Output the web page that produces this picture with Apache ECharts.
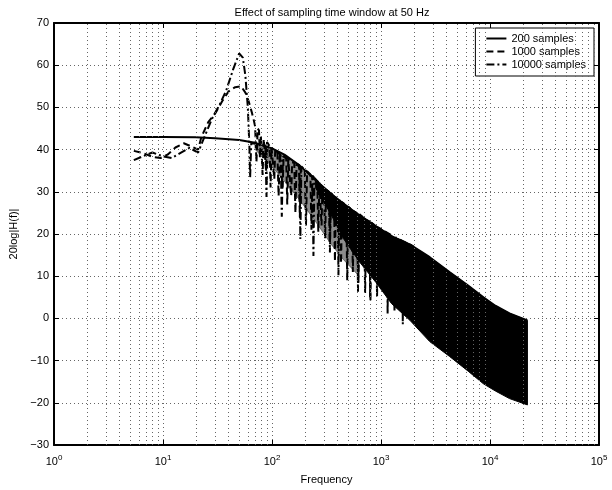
<!DOCTYPE html>
<html>
<head>
<meta charset="utf-8">
<script src="https://cdn.jsdelivr.net/npm/echarts@6/dist/echarts.min.js"></script>
<style>
  html, body { margin: 0; padding: 0; background: #fff; }
  #chart { width: 612px; height: 490px; }
</style>
</head>
<body>
<div id="chart"></div>
<script>
// 200 samples (smooth curve)
const freq200 = [5.4, 10, 20, 30, 50, 70, 100, 130, 180, 250, 350, 450, 630, 900, 1250, 1850, 2800, 4250, 6300, 8700, 11200, 15100, 22050]
const val200 = [43.0, 43.0, 42.9, 42.7, 42.3, 41.6, 40.3, 38.8, 36.2, 32.8, 29.5, 27.2, 24.5, 21.8, 19.5, 17.5, 14.5, 11.0, 7.8, 5.0, 3.0, 1.2, -0.5]

// 1000 samples (dashed)
const freq1000 = [5.4, 6.5, 8, 9.5, 11, 13, 15.5, 18, 21, 22.5, 26, 30, 35, 40, 46, 52, 57, 61, 65, 68,
  70, 72, 74, 76, 77.5, 79, 82, 84, 87, 88.5, 90, 95, 97, 99, 103, 105, 107, 112, 115, 118,
  122, 125, 128, 135, 138, 141, 147, 150, 153, 160, 164, 168, 177, 180, 184, 200, 205, 210,
  225, 230, 235, 260, 266, 272, 280, 285, 290, 300, 307, 314, 333, 340, 347, 370, 378, 386,
  420, 430, 440, 480, 490, 500, 540, 552, 565, 605, 620, 635, 700, 715, 730, 785, 800, 815,
  900, 920, 940, 1300, 1330, 1360, 2000]
const val1000 = [39.7, 39.2, 38.3, 38.0, 38.8, 40.5, 41.5, 40.8, 40.0, 43.0, 46.5, 48.5, 51.5, 53.8, 54.8, 55.0, 53.5, 51.5, 49.0, 47.0,
  45.5, 37.0, 45.0, 44.5, 38.0, 43.5, 34.0, 42.5, 42.2, 35.0, 41.8, 40.8, 31.0, 40.5, 40.2, 33.0, 40.0, 39.5, 29.0, 39.2,
  38.9, 31.0, 38.7, 37.8, 27.0, 37.6, 37.3, 29.0, 37.0, 36.8, 25.0, 36.5, 36.0, 24.0, 35.8, 35.2, 22.0, 34.9,
  34.1, 21.0, 33.8, 32.6, 20.5, 32.2, 31.9, 22.0, 31.6, 31.0, 19.0, 30.5, 30.0, 18.0, 29.7, 29.0, 13.5, 28.7,
  27.9, 13.0, 27.5, 26.8, 9.0, 26.5, 25.8, 11.0, 25.4, 24.9, 8.0, 24.7, 23.7, 6.0, 23.4, 22.9, 4.0, 22.7,
  21.8, 5.2, 21.6, 19.4, 1.5, 19.2, 17.0]

// 10000 samples (dash-dot)
const freq10000 = [5.4, 6.5, 8, 10, 12, 14.5, 17.5, 21, 24, 28, 33, 38, 44, 50, 54, 57, 60, 62, 63, 64.5,
  75, 87, 89, 91, 105, 120, 123, 126, 150, 178, 182, 186, 215, 235, 240, 245, 290, 333, 340, 347,
  380, 400, 407, 415, 500, 605, 615, 625, 700, 785, 795, 805, 950, 1135, 1150, 1165, 1350, 1565, 1585, 1605, 2000]
const val10000 = [37.5, 38.4, 39.3, 38.4, 38.0, 39.2, 40.4, 39.3, 43.0, 47.2, 50.6, 54.0, 59.0, 62.8, 61.8, 57.5, 50.0, 41.0, 33.4, 41.5,
  41.4, 41.0, 28.8, 40.8, 40.0, 38.7, 24.1, 38.4, 37.4, 36.3, 18.8, 36.0, 34.5, 33.6, 14.8, 33.3, 31.2, 29.9, 15.6, 29.6,
  28.6, 28.2, 10.2, 28.0, 26.3, 24.8, 6.3, 24.6, 23.7, 22.9, 4.8, 22.7, 21.4, 20.1, 1.0, 19.9, 19.0, 18.3, -1.4, 18.2, 17.0]

// dense oscillation band of the long records (upper / lower envelope)
const bandFreq = [250, 350, 450, 630, 900, 1250, 1850, 2800, 4250, 6300, 8700, 11200, 15100, 22050]
const bandUpper = [32.8, 29.5, 27.2, 24.5, 21.8, 19.5, 17.5, 14.5, 11.0, 7.8, 5.0, 3.0, 1.2, -0.5]
const bandLower = [31.0, 24.5, 19.0, 13.5, 8.5, 3.5, -0.5, -5.5, -9.0, -12.5, -15.5, -17.2, -19.0, -20.5]

// looser cloud of dashes where the oscillations start (upper / lower envelope)
const cloudFreq = [70, 100, 130, 180, 250, 350, 450, 630]
const cloudUpper = [41.6, 40.3, 38.8, 36.2, 32.8, 29.5, 27.2, 24.5]
const cloudLower = [40.0, 36.0, 32.5, 28.0, 23.0, 17.5, 14.0, 10.0]

// minor grid positions on the log axis
const minorGrid = [2, 3, 4, 5, 6, 7, 8, 9, 20, 30, 40, 50, 60, 70, 80, 90,
  200, 300, 400, 500, 600, 700, 800, 900, 2000, 3000, 4000, 5000, 6000, 7000, 8000, 9000,
  20000, 30000, 40000, 50000, 60000, 70000, 80000, 90000]

const FONT = 'Liberation Sans, Arial, Helvetica, sans-serif'

const pair = (xs, ys) => xs.map((x, i) => [x, ys[i]])

// closed outline between an upper and a lower envelope
const envelope = (xs, hi, lo, fill) => (params, api) => {
  if (params.dataIndex !== 0) return null
  const pts = []
  xs.forEach((f, i) => pts.push(api.coord([f, hi[i]])))
  for (let i = xs.length - 1; i >= 0; i--) pts.push(api.coord([xs[i], lo[i]]))
  return {type: 'polygon', shape: {points: pts}, style: {fill: fill, stroke: fill, lineWidth: 1}}
}

const chart = echarts.init(document.getElementById('chart'), null, {renderer: 'canvas'})

const gridLine = {show: true, lineStyle: {color: '#666', width: 1, type: [1, 3]}}

chart.setOption({
  animation: false,
  backgroundColor: '#fff',
  title: {
    text: 'Effect of sampling time window at 50 Hz',
    left: 327,
    textAlign: 'center',
    top: 2,
    textStyle: {fontFamily: FONT, fontSize: 11, fontWeight: 'normal', color: '#000'}
  },
  legend: {
    data: ['200 samples', '1000 samples', '10000 samples'],
    orient: 'vertical',
    right: 18,
    top: 28,
    padding: [5, 8, 6, 10],
    itemGap: 2,
    itemWidth: 20,
    itemHeight: 11,
    backgroundColor: '#fff',
    borderColor: '#000',
    borderWidth: 1,
    itemStyle: {color: 'rgba(0,0,0,0)', borderColor: 'rgba(0,0,0,0)', borderWidth: 0},
    textStyle: {fontFamily: FONT, fontSize: 11, color: '#000'}
  },
  grid: {left: 54, right: 13, top: 23, bottom: 37},
  xAxis: [
    {
      type: 'log',
      logBase: 10,
      min: 1,
      max: 100000,
      name: 'Frequency',
      nameLocation: 'middle',
      nameGap: 29,
      nameTextStyle: {fontFamily: FONT, fontSize: 11, color: '#000'},
      axisLine: {show: true, onZero: false, lineStyle: {color: '#000', width: 2}},
      axisTick: {show: true, inside: true, length: 5, lineStyle: {color: '#000', width: 1}},
      splitLine: gridLine,
      axisLabel: {
        margin: 9,
        formatter: v => '{b|10}{s|' + Math.round(Math.log10(v)) + '}',
        rich: {
          b: {fontFamily: FONT, fontSize: 11, color: '#000'},
          s: {fontFamily: FONT, fontSize: 8, color: '#000', padding: [0, 0, 8, 0]}
        }
      }
    },
    {
      type: 'log',
      logBase: 10,
      min: 1,
      max: 100000,
      position: 'top',
      axisLine: {show: true, onZero: false, lineStyle: {color: '#000', width: 2}},
      axisTick: {show: true, inside: true, length: 5, lineStyle: {color: '#000', width: 1}},
      axisLabel: {show: false},
      splitLine: {show: false}
    }
  ],
  yAxis: [
    {
      type: 'value',
      min: -30,
      max: 70,
      interval: 10,
      name: '20log|H(f)|',
      nameLocation: 'middle',
      nameGap: 28,
      nameTextStyle: {fontFamily: FONT, fontSize: 11, color: '#000'},
      axisLine: {show: true, onZero: false, lineStyle: {color: '#000', width: 2}},
      axisTick: {show: true, inside: true, length: 5, lineStyle: {color: '#000', width: 1}},
      splitLine: gridLine,
      axisLabel: {
        margin: 5,
        fontFamily: FONT,
        fontSize: 11,
        color: '#000',
        formatter: v => (v < 0 ? '\u2212' + Math.abs(v) : '' + v)
      }
    },
    {
      type: 'value',
      min: -30,
      max: 70,
      interval: 10,
      position: 'right',
      axisLine: {show: true, onZero: false, lineStyle: {color: '#000', width: 2}},
      axisTick: {show: true, inside: true, length: 5, lineStyle: {color: '#000', width: 1}},
      axisLabel: {show: false},
      splitLine: {show: false}
    }
  ],
  series: [
    {
      // minor grid (decade subdivisions)
      name: 'minor',
      type: 'line',
      data: [],
      z: 1,
      silent: true,
      markLine: {
        silent: true,
        symbol: 'none',
        label: {show: false},
        lineStyle: {color: '#666', width: 1, type: [1, 3]},
        data: minorGrid.map(v => ({xAxis: v}))
      }
    },
    {
      name: 'cloud',
      type: 'custom',
      z: 3,
      silent: true,
      data: pair(cloudFreq, cloudUpper),
      encode: {x: 0, y: 1},
      renderItem: envelope(cloudFreq, cloudUpper, cloudLower, 'rgba(0,0,0,0.45)')
    },
    {
      name: 'band',
      type: 'custom',
      z: 3,
      silent: true,
      data: pair(bandFreq, bandUpper),
      encode: {x: 0, y: 1},
      renderItem: envelope(bandFreq, bandUpper, bandLower, '#000')
    },
    {
      name: '200 samples',
      type: 'line',
      z: 4,
      symbol: 'none',
      data: pair(freq200, val200),
      lineStyle: {color: '#000', width: 2, type: 'solid'},
      itemStyle: {color: '#000'}
    },
    {
      name: '1000 samples',
      type: 'line',
      z: 4,
      symbol: 'none',
      data: pair(freq1000, val1000),
      lineStyle: {color: '#000', width: 2, type: [7, 4]},
      itemStyle: {color: '#000'}
    },
    {
      name: '10000 samples',
      type: 'line',
      z: 4,
      symbol: 'none',
      data: pair(freq10000, val10000),
      lineStyle: {color: '#000', width: 2, type: [8, 3, 2, 3]},
      itemStyle: {color: '#000'}
    }
  ]
})
</script>
</body>
</html>
